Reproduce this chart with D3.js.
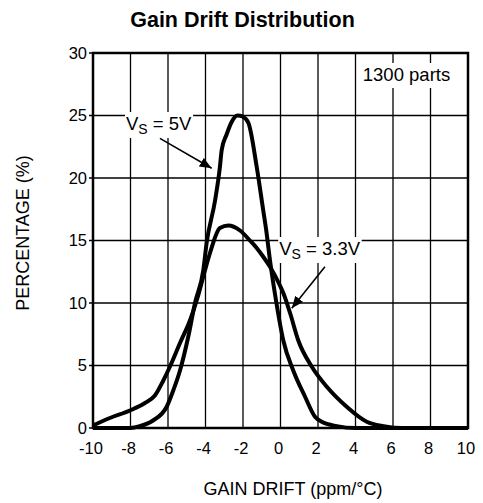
<!DOCTYPE html>
<html>
<head>
<meta charset="utf-8">
<script src="https://cdn.jsdelivr.net/npm/d3@7"></script>
<style>
  body { margin: 0; background: #fff; }
  text { font-family: Arial, "Liberation Sans", Helvetica, sans-serif; fill: #000; }
</style>
</head>
<body>
<div id="viz"></div>
<script>
// values (x = gain drift ppm/°C, y = percentage)
var xTicks = [-10, -8, -6, -4, -2, 0, 2, 4, 6, 8, 10];
var yTicks = [0, 5, 10, 15, 20, 25, 30];

var drift5V = [-10, -8, -7.5, -6.8, -6.07, -5.72, -5.36, -4.92, -4.56, -4.12, -3.94, -3.49, -3.23, -3.14, -2.87, -2.6, -2.3, -2.0, -1.71, -1.27, -0.92, -0.76, -0.56, -0.25, 0.15, 0.68, 1.31, 1.84, 2.2, 3.0, 4.0, 10];
var pct5V = [0, 0, 0.15, 0.6, 1.7, 3.0, 4.6, 7.3, 10, 12.6, 14.8, 18.2, 20.9, 22.2, 23.5, 24.5, 25, 24.9, 24.4, 20.9, 17.4, 15.8, 13.4, 10.3, 7.0, 4.6, 2.5, 0.9, 0.5, 0.15, 0, 0];

var drift33V = [-10, -9.1, -8.03, -7.23, -6.7, -6.25, -5.9, -5.36, -4.83, -4.45, -4.03, -3.76, -3.23, -2.78, -2.16, -1.63, -1.27, -0.92, -0.56, -0.03, 0.15, 0.51, 0.95, 1.67, 2.47, 3.53, 4.6, 5.5, 6.5, 10];
var pct33V = [0.2, 0.8, 1.4, 2.0, 2.6, 3.8, 4.9, 6.8, 8.6, 10.3, 12.6, 14.0, 16.0, 16.2, 15.8, 15.0, 14.4, 13.7, 12.9, 11.4, 10.8, 9.2, 7.0, 4.9, 3.3, 1.7, 0.5, 0.15, 0, 0];

var W = 483, H = 503;
var margin = {left: 93, top: 53};
var width = 375, height = 375;

var svg = d3.select('#viz')
  .append('svg')
    .attr('width', W)
    .attr('height', H);

svg.append('text')
  .attr('x', 242.5)
  .attr('y', 27)
  .attr('text-anchor', 'middle')
  .style('font-size', '21.5px')
  .style('font-weight', 'bold')
  .text('Gain Drift Distribution');

var g = svg.append('g')
  .attr('transform', 'translate(' + margin.left + ',' + margin.top + ')');

var x = d3.scaleLinear().domain([-10, 10]).range([0, width]);
var y = d3.scaleLinear().domain([0, 30]).range([height, 0]);

// grid
g.selectAll('.vgrid')
  .data(xTicks)
  .enter().append('line')
    .attr('x1', function(d) { return x(d); })
    .attr('x2', function(d) { return x(d); })
    .attr('y1', 0)
    .attr('y2', height)
    .style('stroke', '#000')
    .style('stroke-width', 1.3);

g.selectAll('.hgrid')
  .data(yTicks)
  .enter().append('line')
    .attr('x1', -4)
    .attr('x2', width)
    .attr('y1', function(d) { return y(d); })
    .attr('y2', function(d) { return y(d); })
    .style('stroke', '#000')
    .style('stroke-width', 1.3);

// tick labels
g.selectAll('.xlab')
  .data(xTicks)
  .enter().append('text')
    .attr('x', function(d) { return x(d) - 2; })
    .attr('y', 401)
    .attr('text-anchor', 'middle')
    .style('font-size', '16.5px')
    .text(function(d) { return String(d); });

g.selectAll('.ylab')
  .data(yTicks)
  .enter().append('text')
    .attr('x', -6)
    .attr('y', function(d) { return y(d); })
    .attr('dy', '0.36em')
    .attr('text-anchor', 'end')
    .style('font-size', '16.5px')
    .text(function(d) { return String(d); });

svg.append('text')
  .attr('x', 293)
  .attr('y', 495)
  .attr('text-anchor', 'middle')
  .style('font-size', '18px')
  .text('GAIN DRIFT (ppm/°C)');

svg.append('text')
  .attr('transform', 'translate(29,233) rotate(-90)')
  .attr('text-anchor', 'middle')
  .style('font-size', '18px')
  .text('PERCENTAGE (%)');

// labels with white backing that breaks the grid
function label(px, py, parts, size) {
  var lg = g.append('g');
  var bg = lg.append('rect').style('fill', '#fff');
  var t = lg.append('text')
    .attr('x', px)
    .attr('y', py)
    .style('font-size', size + 'px');
  parts.forEach(function(p) {
    t.append('tspan')
      .attr('dy', p.dy || 0)
      .style('font-size', (p.size || size) + 'px')
      .text(p.text);
  });
  var b = t.node().getBBox();
  bg.attr('x', b.x - 1).attr('y', b.y - 1).attr('width', b.width + 2).attr('height', b.height + 2);
  return lg;
}

var box = g.append('g');
box.append('rect')
  .attr('x', x(4.15))
  .attr('y', y(29.2))
  .attr('width', x(9.5) - x(4.15))
  .attr('height', y(27.2) - y(29.2))
  .style('fill', '#fff');
box.append('text')
  .attr('x', x(6.72))
  .attr('y', y(27.8))
  .attr('text-anchor', 'middle')
  .style('font-size', '18.5px')
  .text('1300 parts');

label(x(-8.24), y(23.84), [
  {text: 'V'}, {text: 'S', size: 14, dy: 4}, {text: ' = 5V', dy: -4}
], 18.5);

label(x(-0.07), y(13.84), [
  {text: 'V'}, {text: 'S', size: 14, dy: 4}, {text: ' = 3.3V', dy: -4}
], 18.5);

// curves
var line = d3.line()
  .x(function(d) { return x(d[0]); })
  .y(function(d) { return y(d[1]); })
  .curve(d3.curveMonotoneX);

g.append('path')
  .datum(d3.zip(drift33V, pct33V))
  .attr('d', line)
  .style('fill', 'none')
  .style('stroke', '#000')
  .style('stroke-width', 4)
  .style('stroke-linejoin', 'round');

g.append('path')
  .datum(d3.zip(drift5V, pct5V))
  .attr('d', line)
  .style('fill', 'none')
  .style('stroke', '#000')
  .style('stroke-width', 4)
  .style('stroke-linejoin', 'round');

// arrows
svg.append('defs').append('marker')
  .attr('id', 'head')
  .attr('viewBox', '0 0 12 10')
  .attr('refX', 12)
  .attr('refY', 5)
  .attr('markerWidth', 12)
  .attr('markerHeight', 10)
  .attr('markerUnits', 'userSpaceOnUse')
  .attr('orient', 'auto')
  .append('path')
    .attr('d', 'M0,0 L12,5 L0,10 Z')
    .style('fill', '#000');

var arrows = [
  [-6.43, 23.17, -3.67, 20.78],
  [2.37, 12.9, 0.6, 9.58]
];
g.selectAll('.arrow')
  .data(arrows)
  .enter().append('line')
    .attr('x1', function(d) { return x(d[0]); })
    .attr('y1', function(d) { return y(d[1]); })
    .attr('x2', function(d) { return x(d[2]); })
    .attr('y2', function(d) { return y(d[3]); })
    .style('stroke', '#000')
    .style('stroke-width', 1.6)
    .attr('marker-end', 'url(#head)');

// frame
g.append('rect')
  .attr('width', width)
  .attr('height', height)
  .style('fill', 'none')
  .style('stroke', '#000')
  .style('stroke-width', 2.5);
</script>
</body>
</html>
